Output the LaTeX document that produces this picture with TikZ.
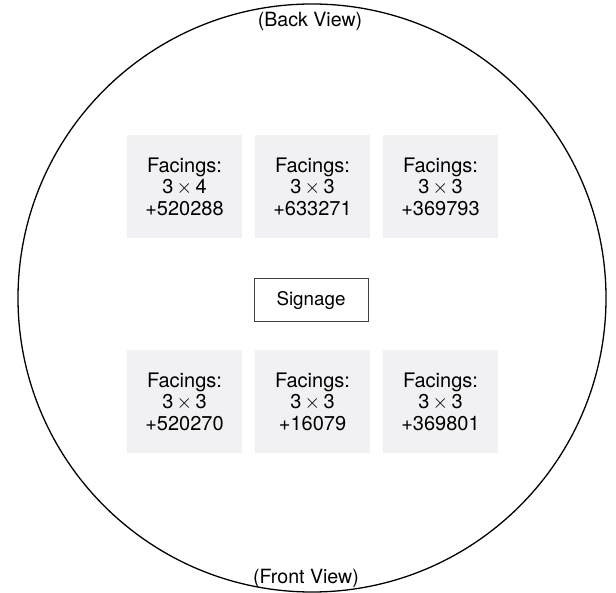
\documentclass[tikz,border=0pt]{standalone}
\usepackage{fontspec}
\setmainfont{TeX Gyre Heros}
\definecolor{facefill}{RGB}{241,241,243}
\begin{document}
\begin{tikzpicture}[x=0.5pt,y=-0.5pt,
  facing/.style={fill=facefill,minimum width=57.5pt,minimum height=51.5pt,
    inner sep=0pt,align=center,font=\fontsize{10}{10.8}\selectfont},
  signbox/.style={draw=black!75,line width=0.5pt,fill=white,minimum width=57pt,
    minimum height=21.5pt,inner sep=0pt,font=\fontsize{9.4}{11}\selectfont},
  viewlabel/.style={inner sep=0pt,font=\fontsize{9.8}{11}\selectfont}]
  \useasboundingbox (0,0) rectangle (616,593);
  \draw[line width=0.65pt] (312,298) circle[radius=147pt];
  \node[viewlabel] (back) at (310,21) {(Back View)};
  \node[viewlabel] (front) at (306,578) {(Front View)};
  % back row
  \node[facing] (f1) at (184.5,186.5) {Facings:\\3\,$\times$\,4\\+520288};
  \node[facing] (f2) at (312.5,186.5) {Facings:\\3\,$\times$\,3\\+633271};
  \node[facing] (f3) at (440.5,186.5) {Facings:\\3\,$\times$\,3\\+369793};
  % signage
  \node[signbox] (sign) at (311,300.5) {Signage};
  % front row
  \node[facing] (f4) at (184.5,401.5) {Facings:\\3\,$\times$\,3\\+520270};
  \node[facing] (f5) at (312.5,401.5) {Facings:\\3\,$\times$\,3\\+16079};
  \node[facing] (f6) at (440.5,401.5) {Facings:\\3\,$\times$\,3\\+369801};
\end{tikzpicture}
\end{document}
